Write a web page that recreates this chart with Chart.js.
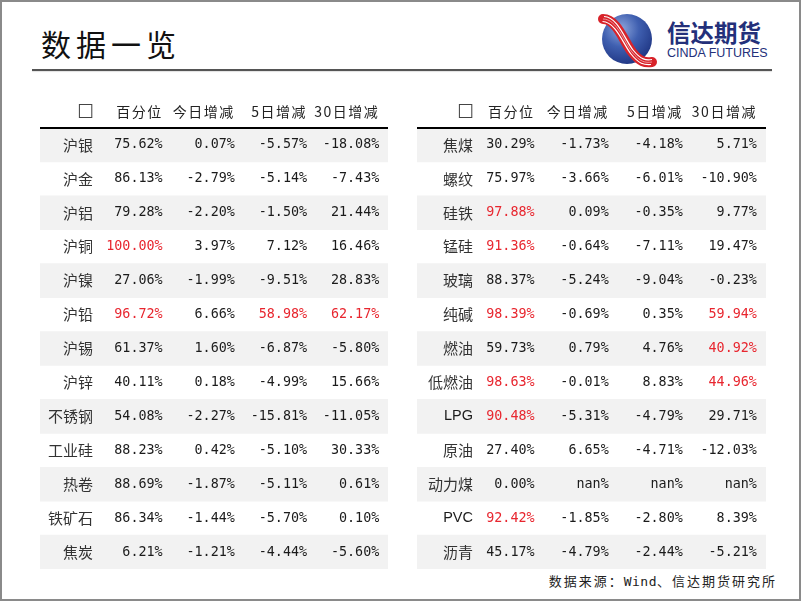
<!DOCTYPE html>
<html>
<head>
<meta charset="utf-8">
<script src="https://cdn.jsdelivr.net/npm/chart.js@4.4.1/dist/chart.umd.min.js"></script>
<style>
  html, body { margin: 0; padding: 0; background: #fff; }
  body { width: 802px; height: 602px; position: relative; overflow: hidden; font-family: "Noto Sans CJK SC", sans-serif; }
  #frame { position: absolute; left: 0; top: 0; width: 801px; height: 601px; box-sizing: border-box; border: 2px solid #8a8a8a; }
  #title { position: absolute; left: 41px; top: 27px; font-size: 30px; line-height: 32px; letter-spacing: 5px; color: #111; font-family: "Noto Sans CJK SC", sans-serif; }
  #rule { position: absolute; left: 32px; top: 69px; width: 740px; height: 2px; background: #555; box-shadow: 0 1px 1px rgba(0,0,0,0.12); }
  #logoText { position: absolute; left: 667px; top: 18px; font-size: 23.5px; line-height: 28px; font-weight: bold; color: #23307a; font-family: "Noto Sans CJK SC", sans-serif; }
  #logoSub { position: absolute; left: 667px; top: 46px; font-size: 12.5px; line-height: 14px; color: #23307a; font-family: "Liberation Sans", Arial, sans-serif; letter-spacing: 0px; }
  #logo { position: absolute; left: 598px; top: 12px; }
  #source { position: absolute; right: 25px; top: 572px; font-size: 13px; line-height: 18px; letter-spacing: 2px; color: #222; font-family: "Noto Sans CJK SC", sans-serif; }
  #source span { font-family: "DejaVu Sans Mono", monospace; letter-spacing: 0.5px; }
  canvas { position: absolute; }
  #leftTable { left: 40px; top: 95px; }
  #rightTable { left: 417px; top: 95px; }
</style>
</head>
<body>
<div id="frame"></div>
<div id="title">数据一览</div>
<div id="rule"></div>
<svg id="logo" width="60" height="56" viewBox="0 0 60 56">
  <defs>
    <radialGradient id="ball" cx="0.38" cy="0.3" r="0.8">
      <stop offset="0" stop-color="#8ea6dc"/>
      <stop offset="0.45" stop-color="#3f5fb0"/>
      <stop offset="1" stop-color="#1a2f7c"/>
    </radialGradient>
  </defs>
  <circle cx="29" cy="27" r="25" fill="url(#ball)"/>
  <path d="M5 7 C 19 7, 26 30, 34 40 S 47 51, 54 50" fill="none" stroke="#d8232a" stroke-width="10" stroke-linecap="round"/>
  <path d="M6 4.5 C 20 5, 27 28, 35 38 S 48 48.5, 54 47.5" fill="none" stroke="#ffffff" stroke-width="1.2"/>
  <path d="M4.5 9.5 C 18 10, 25 32, 33 42 S 46 53, 53 52.5" fill="none" stroke="#ffffff" stroke-width="1.2"/>
  <path d="M5 7 C 19 7, 26 30, 34 40 S 47 51, 54 50" fill="none" stroke="#f3b0b2" stroke-width="0.8"/>
</svg>
<div id="logoText">信达期货</div>
<div id="logoSub">CINDA FUTURES</div>
<canvas id="leftTable" width="348" height="474"></canvas>
<canvas id="rightTable" width="349" height="474"></canvas>
<div id="source">数据来源：<span>Wind</span>、信达期货研究所</div>

<script>
// ---------------- data ----------------
const headers = ["☐", "百分位", "今日增减", "5日增减", "30日增减"];

const leftNames   = ["沪银","沪金","沪铝","沪铜","沪镍","沪铅","沪锡","沪锌","不锈钢","工业硅","热卷","铁矿石","焦炭"];
const leftPct     = [75.62, 86.13, 79.28, 100.00, 27.06, 96.72, 61.37, 40.11, 54.08, 88.23, 88.69, 86.34, 6.21];
const leftDay     = [0.07, -2.79, -2.20, 3.97, -1.99, 6.66, 1.60, 0.18, -2.27, 0.42, -1.87, -1.44, -1.21];
const left5d      = [-5.57, -5.14, -1.50, 7.12, -9.51, 58.98, -6.87, -4.99, -15.81, -5.10, -5.11, -5.70, -4.44];
const left30d     = [-18.08, -7.43, 21.44, 16.46, 28.83, 62.17, -5.80, 15.66, -11.05, 30.33, 0.61, 0.10, -5.60];

const rightNames  = ["焦煤","螺纹","硅铁","锰硅","玻璃","纯碱","燃油","低燃油","LPG","原油","动力煤","PVC","沥青"];
const rightPct    = [30.29, 75.97, 97.88, 91.36, 88.37, 98.39, 59.73, 98.63, 90.48, 27.40, 0.00, 92.42, 45.17];
const rightDay    = [-1.73, -3.66, 0.09, -0.64, -5.24, -0.69, 0.79, -0.01, -5.31, 6.65, NaN, -1.85, -4.79];
const right5d     = [-4.18, -6.01, -0.35, -7.11, -9.04, 0.35, 4.76, 8.83, -4.79, -4.71, NaN, -2.80, -2.44];
const right30d    = [5.71, -10.90, 9.77, 19.47, -0.23, 59.94, 40.92, 44.96, 29.71, -12.03, NaN, 8.39, -5.21];

// highlight rules (red text)
const PCT_HIGH = 90;
const CHANGE_HIGH = 40;

// ---------------- drawing ----------------
const RED = "#e8262f";
const INK = "#1b1b1b";
const SHADE = "#f2f2f2";

function fmt(v) { return isNaN(v) ? "nan%" : v.toFixed(2) + "%"; }

const tablePlugin = {
  id: "tableText",
  afterDatasetsDraw(chart, args, opts) {
    const ctx = chart.ctx;
    const xs = chart.scales.x, ys = chart.scales.y;
    const area = chart.chartArea;
    ctx.save();
    // header rule
    ctx.strokeStyle = "#000";
    ctx.lineWidth = 2;
    ctx.beginPath();
    ctx.moveTo(area.left, area.top);
    ctx.lineTo(area.right, area.top);
    ctx.stroke();

    ctx.textAlign = "right";
    ctx.textBaseline = "middle";
    // headers
    const hy = area.top - 16;
    headers.forEach((h, c) => {
      const x = xs.getPixelForValue(c) + (c === 0 ? opts.nameShift : 0);
      if (c === 0) {
        ctx.font = "19px 'DejaVu Sans'";
        ctx.fillStyle = "#444";
        ctx.letterSpacing = "0px";
        ctx.fillText(h, x + 1, hy + 1);
        return;
      }
      ctx.font = "14px 'Noto Sans CJK SC'";
      ctx.fillStyle = "#222";
      ctx.letterSpacing = "1.5px";
      ctx.fillText(h, x, hy);
    });
    ctx.letterSpacing = "0px";
    // body
    const cols = opts.cols;
    opts.names.forEach((name, r) => {
      const y = ys.getPixelForValue(r);
      ctx.font = "15px 'Noto Sans CJK SC'";
      ctx.fillStyle = "#333";
      if (/^[A-Z]+$/.test(name)) { ctx.font = "14.5px 'Liberation Sans'"; ctx.fillStyle = "#1b1b1b"; }
      ctx.fillText(name, xs.getPixelForValue(0) + opts.nameShift, y);
      ctx.font = "13.4px 'DejaVu Sans Mono'";
      cols.forEach((arr, c) => {
        const v = arr[r];
        const hot = c === 0 ? v >= PCT_HIGH : (c >= 2 && v >= CHANGE_HIGH);
        ctx.fillStyle = hot ? RED : INK;
        ctx.fillText(fmt(v), xs.getPixelForValue(c + 1), y);
      });
    });
    ctx.restore();
  }
};

function makeTable(id, names, cols, xmin, xmax, nameShift) {
  const shade = names.map((n, i) => (i % 2 === 0 ? [xmin, xmax] : null));
  new Chart(document.getElementById(id), {
    type: "bar",
    data: {
      labels: names,
      datasets: [{
        data: shade,
        backgroundColor: SHADE,
        borderWidth: 0,
        barPercentage: 1,
        categoryPercentage: 1
      }]
    },
    options: {
      indexAxis: "y",
      responsive: false,
      animation: false,
      devicePixelRatio: 1,
      layout: { padding: { top: 33, left: 0, right: 0, bottom: 0 } },
      plugins: {
        legend: { display: false },
        tooltip: { enabled: false },
        tableText: { names, cols, nameShift }
      },
      scales: {
        x: { type: "linear", min: xmin, max: xmax, display: false, grid: { display: false } },
        y: { type: "category", display: false, offset: true, grid: { display: false } }
      }
    },
    plugins: [tablePlugin]
  });
}

makeTable("leftTable", leftNames, [leftPct, leftDay, left5d, left30d], -0.699, 4.121, 2.5);
makeTable("rightTable", rightNames, [rightPct, rightDay, right5d, right30d], -0.587, 4.123, 12.5);
</script>
</body>
</html>
